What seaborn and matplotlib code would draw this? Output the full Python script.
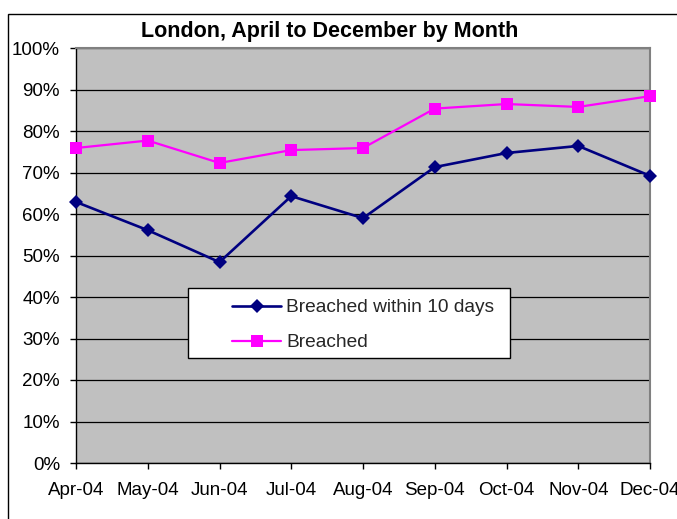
import matplotlib
matplotlib.use("Agg")
import matplotlib.pyplot as plt
import matplotlib.patches as mpatches
import seaborn as sns
import pandas as pd

months = ["Apr-04", "May-04", "Jun-04", "Jul-04", "Aug-04", "Sep-04", "Oct-04", "Nov-04", "Dec-04"]
within10 = [0.629, 0.561, 0.484, 0.643, 0.590, 0.713, 0.747, 0.764, 0.692]
breached = [0.759, 0.777, 0.723, 0.754, 0.759, 0.854, 0.865, 0.858, 0.884]
yticks = [0, 0.1, 0.2, 0.3, 0.4, 0.5, 0.6, 0.7, 0.8, 0.9, 1.0]
ytick_labels = ["0%", "10%", "20%", "30%", "40%", "50%", "60%", "70%", "80%", "90%", "100%"]
title = "London, April to December by Month"
label_within = "Breached within 10 days"
label_breached = "Breached"

sns.set_theme(style="white")
plt.rcParams["font.family"] = ["Liberation Sans", "DejaVu Sans"]

W, H = 677, 519
fig = plt.figure(figsize=(W / 100, H / 100), dpi=100)
ax = fig.add_axes([76 / W, 1 - 463 / H, (650 - 76) / W, (463 - 48) / H])
ax.set_facecolor("#C0C0C0")

df = pd.DataFrame({"month": months, "within": within10, "breached": breached})

sns.lineplot(data=df, x="month", y="within", sort=False, ax=ax, color="#000080",
             linewidth=1.9, marker="D", markersize=7, markeredgewidth=0,
             label=label_within)
sns.lineplot(data=df, x="month", y="breached", sort=False, ax=ax, color="#FF00FF",
             linewidth=1.6, marker="s", markersize=8.5, markeredgewidth=0,
             label=label_breached)
for ln in ax.lines:
    ln.set_clip_on(False)
    ln.set_zorder(5)

ax.set_xlim(0, len(months) - 1)
ax.set_ylim(0, 1.0)
ax.set_yticks(yticks)
ax.set_yticklabels(ytick_labels)
ax.set_xlabel("")
ax.set_ylabel("")
ax.yaxis.grid(True, color="black", linewidth=0.9)
ax.xaxis.grid(False)
ax.set_axisbelow(True)

ax.tick_params(axis="both", which="both", direction="out", length=4.5, width=1,
               color="black", labelsize=13.5, labelcolor="black")
ax.tick_params(axis="y", pad=7)
ax.tick_params(axis="x", pad=9)
ax.tick_params(left=True, bottom=True)

for s in ["left", "bottom"]:
    ax.spines[s].set_color("black")
    ax.spines[s].set_linewidth(1.0)
for s in ["top", "right"]:
    ax.spines[s].set_color("#808080")
    ax.spines[s].set_linewidth(1.5)

handles, labels = ax.get_legend_handles_labels()
if ax.get_legend() is not None:
    ax.get_legend().remove()

# legend box (white with black frame)
legbox = mpatches.Rectangle((188 / W, 1 - 358 / H), (510 - 188) / W, (358 - 288) / H,
                            transform=fig.transFigure, facecolor="white",
                            edgecolor="black", linewidth=1.0, zorder=2)
fig.add_artist(legbox)

leg = fig.legend(handles, labels, loc="upper left", bbox_to_anchor=(232 / W, 1 - 299 / H),
                 bbox_transform=fig.transFigure, frameon=False,
                 fontsize=13.8, handlelength=2.56, handletextpad=0.27,
                 borderpad=0, labelspacing=0.92, borderaxespad=0)
leg.set_zorder(5)

fig.text(330 / W, 1 - 32 / H, title, ha="center", va="center",
         fontsize=15.5, fontweight="bold", color="black")

border = mpatches.Rectangle((8 / W, -0.2), 1.2, 1 - 14 / H + 0.2, transform=fig.transFigure,
                            fill=False, edgecolor="black", linewidth=1.0, clip_on=False)
fig.add_artist(border)

fig.savefig("out.png", dpi=100)
